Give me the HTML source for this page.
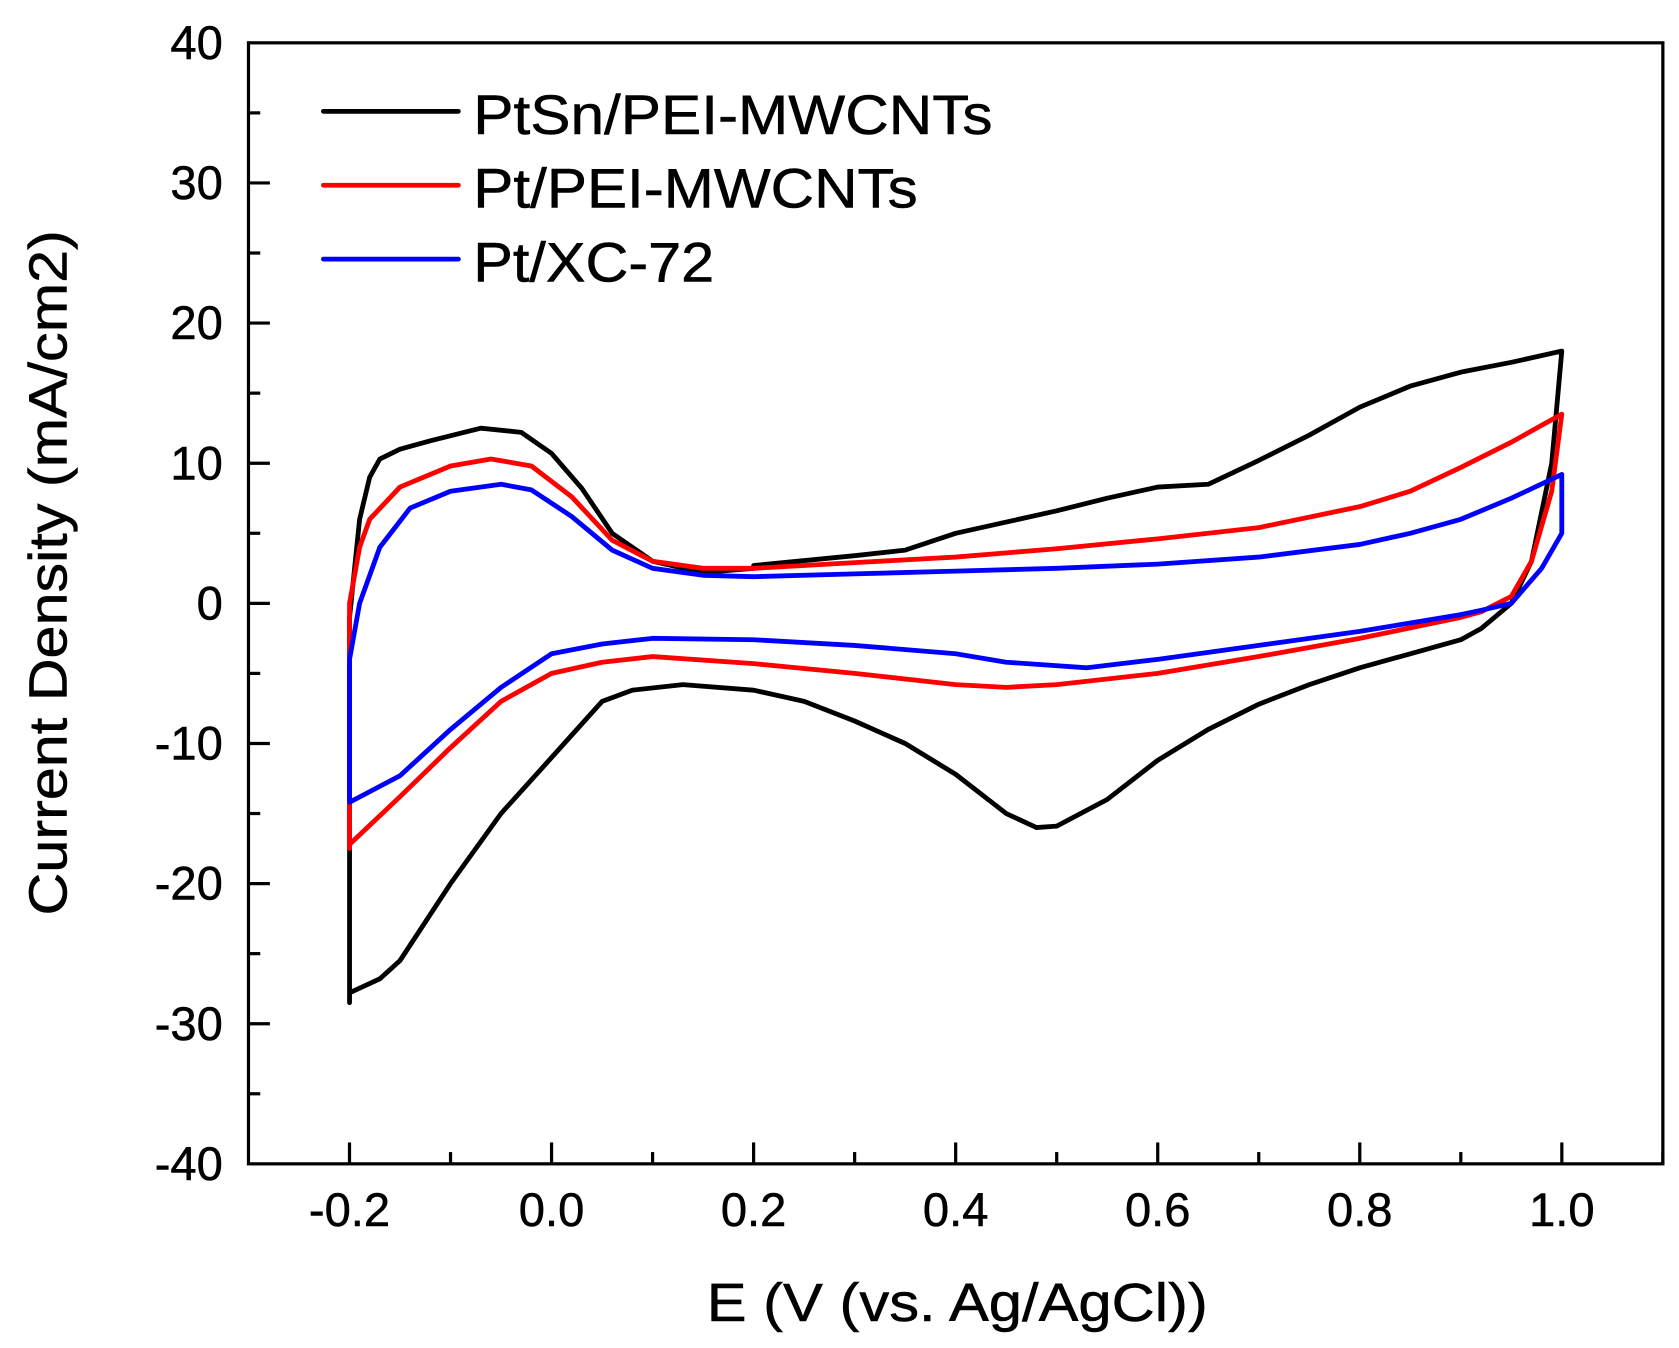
<!DOCTYPE html>
<html><head><meta charset="utf-8"><style>
html,body{margin:0;padding:0;background:#fff;}
svg{display:block;}
text{font-family:"Liberation Sans",Arial,sans-serif;fill:#000;stroke:#000;stroke-width:0.5;}
</style></head><body>
<svg id="chart" width="1679" height="1348" viewBox="0 0 1568 1259" xmlns="http://www.w3.org/2000/svg">
<g id="axes"></g>
<g id="series"></g>
<g id="legend"></g>
<text x="660" y="1234" font-size="50" textLength="468" lengthAdjust="spacingAndGlyphs">E (V (vs. Ag/AgCl))</text>
<text transform="translate(62,855) rotate(-90)" font-size="50" textLength="640" lengthAdjust="spacingAndGlyphs">Current Density (mA/cm2)</text>
</svg>
<script>
const xTicks = [-0.2, 0.0, 0.2, 0.4, 0.6, 0.8, 1.0];
const xTickLabels = ["-0.2", "0.0", "0.2", "0.4", "0.6", "0.8", "1.0"];
const yTicks = [-40, -30, -20, -10, 0, 10, 20, 30, 40];
const yTickLabels = ["-40", "-30", "-20", "-10", "0", "10", "20", "30", "40"];
const seriesNames = ["PtSn/PEI-MWCNTs", "Pt/PEI-MWCNTs", "Pt/XC-72"];
const seriesColors = ["#000000", "#ff0000", "#0000ff"];
const ptsnE = [0.2,0.3,0.35,0.4,0.45,0.5,0.55,0.6,0.65,0.7,0.75,0.8,0.85,0.9,0.95,1.0,0.99,0.97,0.95,0.92,0.9,0.85,0.8,0.75,0.7,0.65,0.6,0.55,0.5,0.48,0.45,0.4,0.35,0.3,0.25,0.2,0.13,0.08,0.05,0.0,-0.05,-0.1,-0.15,-0.17,-0.2,-0.2,-0.2,-0.19,-0.18,-0.17,-0.15,-0.12,-0.07,-0.03,0.0,0.03,0.06,0.1,0.15,0.2];
const ptsnJ = [2.7,3.4,3.8,5.0,5.8,6.6,7.5,8.3,8.5,10.2,12.0,14.0,15.5,16.5,17.2,18.0,10.0,3.0,0.0,-1.8,-2.6,-3.6,-4.6,-5.8,-7.2,-9.0,-11.2,-14.0,-15.9,-16.0,-15.0,-12.2,-10.0,-8.4,-7.0,-6.2,-5.8,-6.2,-7.0,-11.0,-15.0,-20.0,-25.5,-26.8,-27.8,-28.5,-1.0,6.0,9.0,10.3,11.0,11.6,12.5,12.2,10.7,8.2,5.0,3.0,2.2,2.5];
const ptE = [-0.2,-0.2,-0.19,-0.18,-0.15,-0.1,-0.06,-0.02,0.02,0.06,0.1,0.15,0.2,0.3,0.4,0.5,0.6,0.7,0.8,0.85,0.9,0.95,1.0,0.99,0.97,0.95,0.92,0.9,0.8,0.7,0.6,0.5,0.45,0.4,0.3,0.2,0.1,0.05,0.0,-0.05,-0.1,-0.15,-0.2];
const ptJ = [-17.5,0.0,4.0,6.0,8.3,9.8,10.3,9.8,7.6,4.5,3.0,2.5,2.5,2.9,3.3,3.9,4.6,5.4,6.9,8.0,9.7,11.5,13.5,8.0,3.0,0.5,-0.6,-1.0,-2.5,-3.8,-5.0,-5.8,-6.0,-5.8,-5.0,-4.3,-3.8,-4.2,-5.0,-7.0,-10.3,-13.8,-17.2];
const xcE = [-0.2,-0.2,-0.19,-0.17,-0.14,-0.1,-0.05,-0.02,0.02,0.06,0.1,0.15,0.2,0.3,0.4,0.5,0.6,0.7,0.8,0.85,0.9,0.95,1.0,1.0,0.98,0.95,0.92,0.9,0.8,0.7,0.6,0.53,0.45,0.4,0.3,0.2,0.1,0.05,0.0,-0.05,-0.1,-0.15,-0.2];
const xcJ = [-14.2,-4.0,0.0,4.0,6.8,8.0,8.5,8.1,6.2,3.8,2.5,2.0,1.9,2.1,2.3,2.5,2.8,3.3,4.2,5.0,6.0,7.5,9.2,5.0,2.5,0.0,-0.5,-0.8,-2.0,-3.0,-4.0,-4.6,-4.2,-3.6,-3.0,-2.6,-2.5,-2.9,-3.6,-6.0,-9.0,-12.3,-14.2];

const NS = "http://www.w3.org/2000/svg";
const L = 232, R = 1553, T = 40, B = 1087;
const xMin = -0.3, xMax = 1.1, yMin = -40, yMax = 40;
function xs(v){ return L + (v - xMin) / (xMax - xMin) * (R - L); }
function ys(v){ return B - (v - yMin) / (yMax - yMin) * (B - T); }
function mk(tag, attrs, parent){ const e = document.createElementNS(NS, tag); for (const k in attrs) e.setAttribute(k, attrs[k]); parent.appendChild(e); return e; }

const axes = document.getElementById('axes');
const frame = mk('rect', {x:L, y:T, width:R-L, height:B-T, fill:'none', stroke:'#000', 'stroke-width':3}, axes);


xTicks.forEach((v, i) => {
  const t = mk('line', {x1:xs(v), x2:xs(v), y1:B, y2:B-20, stroke:'#000', 'stroke-width':3}, axes);
  
  
  const m = mk('line', {x1:xs(v+0.1), x2:xs(v+0.1), y1:B, y2:B-11, stroke:'#000', 'stroke-width':3}, axes);
  
  
  const lb = mk('text', {x:xs(v), y:1145, 'font-size':44, 'text-anchor':'middle'}, axes);
  lb.textContent = xTickLabels[i];
  
  
});
const m0 = mk('line', {x1:xs(-0.2-0.1+0.1-0.1+0.1), x2:xs(-0.2-0.1+0.1-0.1+0.1), y1:B, y2:B, stroke:'#000', 'stroke-width':0}, axes);
yTicks.forEach((v, i) => {
  if (v > yMin && v < yMax) {
    const t = mk('line', {x1:L, x2:L+20, y1:ys(v), y2:ys(v), stroke:'#000', 'stroke-width':3}, axes);
    
    
  }
  if (v < yMax) {
    const m = mk('line', {x1:L, x2:L+11, y1:ys(v+5), y2:ys(v+5), stroke:'#000', 'stroke-width':3}, axes);
    
    
  }
  const lb = mk('text', {x:208, y:ys(v)+15, 'font-size':44, 'text-anchor':'end'}, axes);
  lb.textContent = yTickLabels[i];
  
  
});

const series = document.getElementById('series');
const data = [[ptsnE, ptsnJ], [ptE, ptJ], [xcE, xcJ]];
const snames = ['ptsn-pei-mwcnts-curve', 'pt-pei-mwcnts-curve', 'pt-xc72-curve'];
data.forEach((d, s) => {
  const pts = d[0].map((e, i) => xs(e).toFixed(1) + ',' + ys(d[1][i]).toFixed(1)).join(' ');
  const p = mk('polyline', {points:pts, fill:'none', stroke:seriesColors[s], 'stroke-width':4.5, 'stroke-linejoin':'round', 'stroke-linecap':'round'}, series);
  
  
});

const legendLens = [485, 415, 225];
const legend = document.getElementById('legend');
seriesNames.forEach((n, i) => {
  const y = 104 + i * 69;
  const ln = mk('line', {x1:302, x2:428, y1:y, y2:y, stroke:seriesColors[i], 'stroke-width':4.5, 'stroke-linecap':'round'}, legend);
  
  
  const tx = mk('text', {x:442, y:y+21, 'font-size':52, textLength:legendLens[i], lengthAdjust:'spacingAndGlyphs'}, legend);
  tx.textContent = n;
  
  
});
</script>
</body></html>
